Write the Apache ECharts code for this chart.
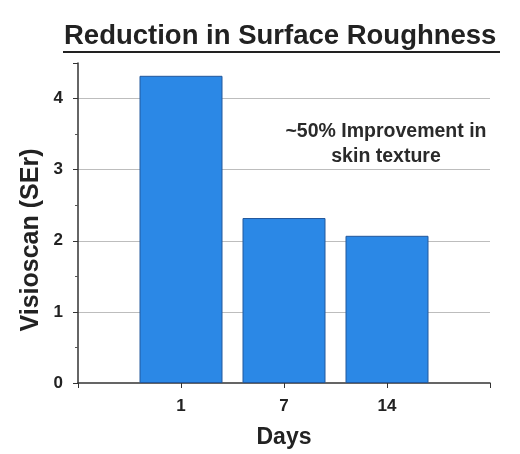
<!DOCTYPE html>
<html>
<head>
<meta charset="utf-8">
<script src="https://cdn.jsdelivr.net/npm/echarts@6/dist/echarts.min.js"></script>
<style>
html,body{margin:0;padding:0;background:#fff;}
#chart{width:520px;height:454px;}
</style>
</head>
<body>
<div id="chart"></div>
<script>
const titleText = 'Reduction in Surface Roughness';
const xAxisTitle = 'Days';
const yAxisTitle = 'Visioscan (SEr)';
const days = ['1', '7', '14'];
const roughness = [4.32, 2.32, 2.07];
const yTicks = [0, 1, 2, 3, 4];
const noteLines = ['~50% Improvement in', 'skin texture'];

const FONT = '"Liberation Sans", Arial, sans-serif';
const categories = [''].concat(days, ['']);
const barData = ['-'].concat(roughness, ['-']);

const chart = echarts.init(document.getElementById('chart'), null, {renderer: 'canvas'});
chart.setOption({
  backgroundColor: '#ffffff',
  animation: false,
  grid: {left: 78, right: 30, top: 63, bottom: 65, containLabel: false},
  xAxis: {
    type: 'category',
    data: categories,
    boundaryGap: false,
    name: xAxisTitle,
    nameLocation: 'middle',
    nameGap: 43,
    nameTextStyle: {fontFamily: FONT, fontWeight: 'bold', fontSize: 23, color: '#222'},
    axisLine: {lineStyle: {color: '#333', width: 1.5}},
    axisTick: {show: true, length: 5, lineStyle: {color: '#333'}},
    axisLabel: {fontFamily: FONT, fontWeight: 'bold', fontSize: 17, color: '#222', margin: 15},
    splitLine: {show: false}
  },
  yAxis: {
    type: 'value',
    min: 0,
    max: 4.5,
    interval: 1,
    axisLine: {show: true, lineStyle: {color: '#333', width: 1.5}},
    axisTick: {show: true, length: 5, lineStyle: {color: '#333'}},
    minorTick: {show: true, splitNumber: 2, length: 3, lineStyle: {color: '#555'}},
    axisLabel: {
      fontFamily: FONT, fontWeight: 'bold', fontSize: 17, color: '#222', margin: 15,
      formatter: function (v) { return yTicks.indexOf(v) >= 0 ? String(v) : ''; }
    },
    splitLine: {show: true, showMinLine: false, showMaxLine: false, lineStyle: {color: '#bdbdbd', width: 1}}
  },
  series: [{
    type: 'bar',
    data: barData,
    barWidth: 83,
    itemStyle: {color: '#2b88e6', borderColor: '#23589c', borderWidth: 1}
  }],
  graphic: [
    {
      type: 'text',
      left: 64, top: 22,
      style: {text: titleText, fontFamily: FONT, fontWeight: 'bold', fontSize: 27.5, fill: '#222'}
    },
    {
      type: 'rect',
      shape: {x: 63, y: 51, width: 437, height: 2},
      style: {fill: '#222'}
    },
    {
      type: 'text',
      x: 31, y: 240,
      rotation: Math.PI / 2,
      style: {text: yAxisTitle, fontFamily: FONT, fontWeight: 'bold', fontSize: 25, fill: '#222', align: 'center', verticalAlign: 'middle'}
    },
    {
      type: 'text',
      x: 386, y: 132,
      style: {text: noteLines[0], fontFamily: FONT, fontWeight: 'bold', fontSize: 19.5, fill: '#2a2a2a', align: 'center', verticalAlign: 'middle'}
    },
    {
      type: 'text',
      x: 386, y: 157,
      style: {text: noteLines[1], fontFamily: FONT, fontWeight: 'bold', fontSize: 19.5, fill: '#2a2a2a', align: 'center', verticalAlign: 'middle'}
    }
  ]
});
</script>
</body>
</html>
